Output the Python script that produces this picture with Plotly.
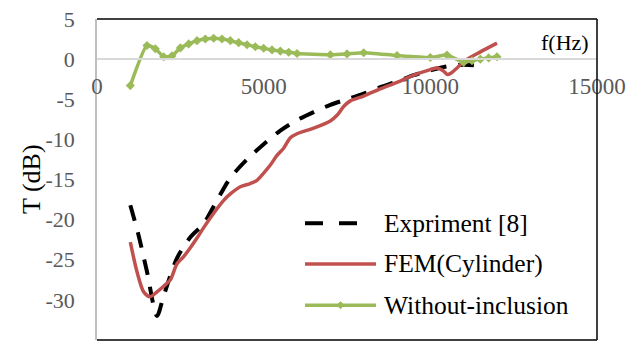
import plotly.graph_objects as go

# Transmission loss data (frequency in Hz, T in dB)
exp_f = [1000, 1250, 1500, 1800, 2000, 2400, 2800, 3200, 3600, 4000, 4500,
         5000, 5500, 6000, 6500, 7000, 7500, 8000, 8500, 9000, 9500, 10000,
         10500, 11000, 11400]
exp_t = [-18.2, -22.0, -26.5, -32.0, -29.5, -24.8, -22.2, -20.5, -17.6, -14.8,
         -12.5, -10.6, -8.9, -7.6, -6.6, -5.7, -5.0, -4.3, -3.5, -2.8, -2.0,
         -1.4, -0.9, -0.7, -0.8]

fem_f = [1000, 1200, 1400, 1600, 1800, 2000, 2200, 2400, 2600, 2800, 3000,
         3200, 3500, 3800, 4000, 4300, 4600, 4800, 5000, 5200, 5400, 5600,
         5800, 6000, 6500, 7000, 7200, 7400, 7600, 8000, 8500, 9000, 9500,
         10000, 10200, 10400, 10500, 10600, 10800, 11000, 11500, 12000]
fem_t = [-22.8, -26.5, -29.0, -29.6, -29.0, -28.3, -27.5, -25.5, -24.6, -23.5,
         -22.3, -21.0, -19.2, -17.6, -16.8, -15.9, -15.5, -15.1, -14.2, -13.2,
         -12.0, -11.1, -9.8, -9.3, -8.6, -7.7, -7.0, -5.9, -5.2, -4.6, -3.7,
         -2.9, -2.0, -1.3, -1.1, -1.5, -1.9, -1.8, -1.1, -0.3, 0.9, 2.0]

free_f = [1000, 1500, 1750, 2000, 2250, 2500, 2750, 3000, 3250, 3500, 3750,
          4000, 4250, 4500, 4750, 5000, 5250, 5500, 5750, 6000, 7000, 7500,
          8000, 9000, 10000, 10500, 11000, 11250, 11500, 11750, 12000]
free_t = [-3.3, 1.7, 1.3, 0.3, 0.4, 1.4, 1.9, 2.3, 2.5, 2.6, 2.5, 2.3, 2.05,
          1.8, 1.55, 1.35, 1.15, 1.0, 0.85, 0.7, 0.55, 0.65, 0.8, 0.45, 0.2,
          0.5, -0.4, -0.2, 0.0, 0.15, 0.3]

x_ticks = [0, 5000, 10000, 15000]
y_ticks = [5, 0, -5, -10, -15, -20, -25, -30, -35]

legend_names = ["Expriment [8]", "FEM(Cylinder)", "Without-inclusion"]

BLACK = "#000000"
RED = "#C0504D"
GREEN = "#9BBB59"
TICK_GRAY = "#595959"
FONT = "Liberation Serif"

fig = go.Figure()

fig.add_trace(go.Scatter(
    x=exp_f, y=exp_t, mode="lines", name=legend_names[0],
    line=dict(color=BLACK, width=4, dash="16px,12px", shape="spline", smoothing=0.8),
    showlegend=False))

fig.add_trace(go.Scatter(
    x=fem_f, y=fem_t, mode="lines", name=legend_names[1],
    line=dict(color=RED, width=3.5, shape="spline", smoothing=0.8),
    showlegend=False))

fig.add_trace(go.Scatter(
    x=free_f, y=free_t, mode="lines+markers", name=legend_names[2],
    line=dict(color=GREEN, width=3.5, shape="spline", smoothing=0.5),
    marker=dict(symbol="diamond", size=7, color=GREEN),
    showlegend=False))

L, R, T, B = 97, 43, 17, 7
W, H = 640, 347
pw, ph = W - L - R, H - T - B


def px_x(px):
    return (px - L) / pw


def px_y(py):
    return (H - B - py) / ph


shapes = []
# frame of the plot area: top, right and bottom edges in black
for x0, y0, x1, y1 in [(0, 1, 1, 1), (1, 0, 1, 1), (0, 0, 1, 0)]:
    shapes.append(dict(type="line", xref="paper", yref="paper",
                       x0=x0, y0=y0, x1=x1, y1=y1,
                       line=dict(color=BLACK, width=1.5)))

# hand-built legend keys
row_y = [222.5, 263.5, 305]
shapes.append(dict(type="line", xref="paper", yref="paper",
                   x0=px_x(305), x1=px_x(323), y0=px_y(row_y[0]), y1=px_y(row_y[0]),
                   line=dict(color=BLACK, width=4)))
shapes.append(dict(type="line", xref="paper", yref="paper",
                   x0=px_x(339), x1=px_x(357), y0=px_y(row_y[0]), y1=px_y(row_y[0]),
                   line=dict(color=BLACK, width=4)))
shapes.append(dict(type="line", xref="paper", yref="paper",
                   x0=px_x(305), x1=px_x(376), y0=px_y(row_y[1]), y1=px_y(row_y[1]),
                   line=dict(color=RED, width=3.5)))
shapes.append(dict(type="line", xref="paper", yref="paper",
                   x0=px_x(305), x1=px_x(376), y0=px_y(row_y[2]), y1=px_y(row_y[2]),
                   line=dict(color=GREEN, width=3.5)))
cx, cy, d = 340.5, row_y[2], 3.5
shapes.append(dict(type="path", xref="paper", yref="paper",
                   path=(f"M {px_x(cx - d)} {px_y(cy)} L {px_x(cx)} {px_y(cy - d)} "
                         f"L {px_x(cx + d)} {px_y(cy)} L {px_x(cx)} {px_y(cy + d)} Z"),
                   fillcolor=GREEN, line=dict(color=GREEN, width=1)))

annotations = []
for name, yy in zip(legend_names, row_y):
    annotations.append(dict(text=name, xref="paper", yref="paper",
                            x=px_x(382), y=px_y(yy), xanchor="left", yanchor="middle",
                            showarrow=False, font=dict(family=FONT, size=25.5, color=BLACK)))

annotations.append(dict(text="f(Hz)", xref="paper", yref="paper",
                        x=px_x(591), y=px_y(41), xanchor="right", yanchor="middle",
                        showarrow=False, font=dict(family=FONT, size=22, color=BLACK)))
annotations.append(dict(text="T (dB)", xref="paper", yref="paper",
                        x=px_x(31), y=px_y(178), xanchor="center", yanchor="middle",
                        textangle=-90, showarrow=False,
                        font=dict(family=FONT, size=26, color=BLACK)))

y_min, y_max = -35, 5

fig.update_layout(
    width=W, height=H,
    margin=dict(l=L, r=R, t=T, b=B),
    paper_bgcolor="white", plot_bgcolor="white",
    shapes=shapes, annotations=annotations,
    xaxis=dict(range=[0, 15000], tickvals=x_ticks,
               ticktext=[str(v) for v in x_ticks],
               anchor="free", position=(0 - y_min) / (y_max - y_min),
               showline=True, linecolor="#D9D9D9", linewidth=1.5,
               showgrid=False, zeroline=False,
               ticks="outside", ticklen=7, tickcolor="rgba(0,0,0,0)",
               tickfont=dict(family=FONT, size=23, color=TICK_GRAY)),
    yaxis=dict(range=[y_min, y_max], tickvals=y_ticks,
               ticktext=[str(v) for v in y_ticks],
               showline=True, linecolor="#BFBFBF", linewidth=1.5,
               showgrid=False, zeroline=False,
               ticks="outside", ticklen=16, tickcolor="rgba(0,0,0,0)",
               tickfont=dict(family=FONT, size=22, color=TICK_GRAY)),
)

fig.write_html("out.html")
